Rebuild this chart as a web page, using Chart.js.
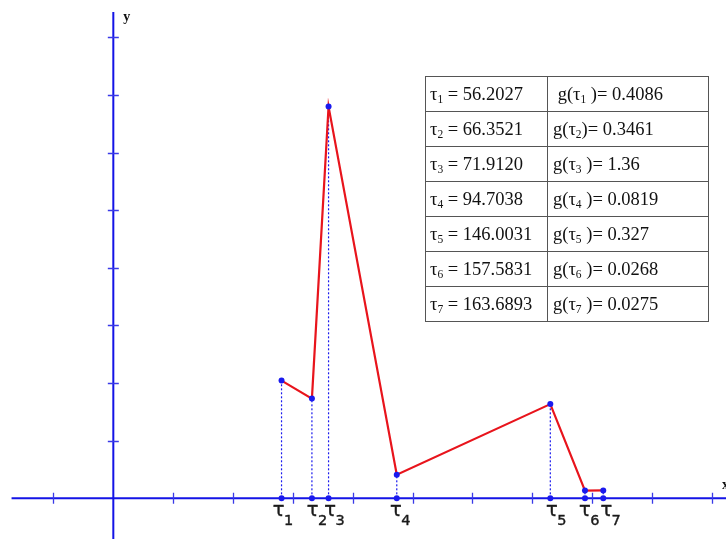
<!DOCTYPE html>
<html><head><meta charset="utf-8">
<script src="https://cdn.jsdelivr.net/npm/chart.js@4.4.1/dist/chart.umd.min.js"></script>
<style>
html,body{margin:0;padding:0;background:#fff;}
#wrap{position:relative;width:726px;height:539px;overflow:hidden;background:#fff;}
#c{position:absolute;left:0;top:0;}
#tbl{position:absolute;left:425px;top:76px;border-collapse:collapse;font-family:"Liberation Serif","Times New Roman",serif;font-size:18.5px;color:#111;}
#tbl td{border:1px solid #555;height:35px;padding:0 0 0 4px;white-space:nowrap;box-sizing:border-box;line-height:18px;}
#tbl td.c1{width:122px;}
#tbl td.c2{width:161px;padding-left:5px;}
#tbl sub{font-size:11.5px;vertical-align:-3px;line-height:0;}
</style>
</head><body>
<div id="wrap">
<canvas id="c" width="726" height="539"></canvas>
<table id="tbl"></table>
</div>
<script>
// ---- data ----
const tauNames = ['1','2','3','4','5','6','7'];
const tauValues = [56.2027, 66.3521, 71.9120, 94.7038, 146.0031, 157.5831, 163.6893];
const gValues = [0.4086, 0.3461, 1.36, 0.0819, 0.327, 0.0268, 0.0275];
const tauTexts = ['56.2027','66.3521','71.9120','94.7038','146.0031','157.5831','163.6893'];
const gTexts = ['0.4086','0.3461','1.36','0.0819','0.327','0.0268','0.0275'];
const xTicks = [-20, 20, 40, 60, 80, 100, 120, 140, 160, 180, 200];
const yTicks = [0.2, 0.4, 0.6, 0.8, 1.0, 1.2, 1.4, 1.6];

// ---- table ----
const tbl = document.getElementById('tbl');
tauNames.forEach((n, i) => {
  const tr = document.createElement('tr');
  const sp = (i === 1) ? '' : ' ';
  const lead = (i === 0) ? '&nbsp;' : '';
  tr.innerHTML = '<td class="c1">τ<sub>' + n + '</sub> = ' + tauTexts[i] + '</td>' +
    '<td class="c2">' + lead + 'g(τ<sub>' + n + '</sub>' + sp + ')= ' + gTexts[i] + '</td>';
  tbl.appendChild(tr);
});

// ---- styles ----
const AXIS = '#1414e6';
const RED = '#e8141c';
const DOT = '#1a1aee';
const X_MIN = -37.86, X_MAX = 204.7, Y_MIN = -0.1413, Y_MAX = 1.730;
const X_AXIS_START = -34, Y_AXIS_TOP = 1.688;
const labelOffsets = [-3, 0.7, 1.5, -0.8, 1.6, 0, 3];

const axesPlugin = {
  id: 'axes',
  beforeDatasetsDraw(chart) {
    const ctx = chart.ctx, xs = chart.scales.x, ys = chart.scales.y;
    const x0 = xs.getPixelForValue(0), y0 = ys.getPixelForValue(0);
    ctx.save();
    ctx.strokeStyle = AXIS;
    ctx.lineWidth = 2;
    ctx.beginPath();
    ctx.moveTo(xs.getPixelForValue(X_AXIS_START), y0);
    ctx.lineTo(chart.width, y0);
    ctx.moveTo(x0, ys.getPixelForValue(Y_AXIS_TOP));
    ctx.lineTo(x0, chart.height);
    ctx.stroke();
    ctx.lineWidth = 1.3;
    ctx.strokeStyle = '#3a3ae8';
    ctx.beginPath();
    xTicks.forEach(v => {
      const px = Math.round(xs.getPixelForValue(v)) + 0.5;
      ctx.moveTo(px, y0 - 5.5); ctx.lineTo(px, y0 + 5.5);
    });
    yTicks.forEach(v => {
      const py = Math.round(ys.getPixelForValue(v)) + 0.5;
      ctx.moveTo(x0 - 5.5, py); ctx.lineTo(x0 + 5.5, py);
    });
    ctx.stroke();
    ctx.restore();
  },
  afterDraw(chart) {
    const ctx = chart.ctx, xs = chart.scales.x, ys = chart.scales.y;
    ctx.save();
    ctx.fillStyle = '#111';
    ctx.font = 'bold 14px "Liberation Serif", serif';
    ctx.textBaseline = 'alphabetic';
    ctx.fillText('y', xs.getPixelForValue(0) + 10, 21);
    ctx.fillText('x', 722, ys.getPixelForValue(0) - 9);
    ctx.fillStyle = '#1a1a1a';
    ctx.strokeStyle = '#1a1a1a';
    ctx.lineWidth = 0.4;
    tauValues.forEach((t, i) => {
      const cx = xs.getPixelForValue(t) + labelOffsets[i];
      ctx.font = '19.5px "DejaVu Sans", sans-serif';
      const w = ctx.measureText('τ').width;
      ctx.textAlign = 'left';
      ctx.fillText('τ', cx - w / 2, 515.5);
      ctx.strokeText('τ', cx - w / 2, 515.5);
      ctx.font = '14.5px "DejaVu Sans", sans-serif';
      ctx.fillText(tauNames[i], cx + w / 2 - 0.5, 525);
      ctx.strokeText(tauNames[i], cx + w / 2 - 0.5, 525);
    });
    ctx.restore();
  }
};

const pts = tauValues.map((t, i) => ({x: t, y: gValues[i]}));
const basePts = tauValues.map(t => ({x: t, y: 0}));
const dotted = tauValues.map((t, i) => ({
  data: [{x: t, y: 0}, {x: t, y: gValues[i]}],
  showLine: true, borderColor: DOT, borderWidth: 1.2, borderDash: [2, 2],
  pointRadius: 0, order: 3
}));

new Chart(document.getElementById('c'), {
  type: 'scatter',
  data: {
    datasets: [
      {data: pts, pointRadius: 3, pointBackgroundColor: DOT, pointBorderWidth: 0, showLine: false, order: 0},
      {data: basePts, pointRadius: 3, pointBackgroundColor: DOT, pointBorderWidth: 0, showLine: false, order: 0},
      {data: pts, showLine: true, borderColor: RED, borderWidth: 2.2, pointRadius: 0, tension: 0, order: 1},
      ...dotted
    ]
  },
  options: {
    responsive: false,
    animation: false,
    events: [],
    layout: {padding: 0, autoPadding: false},
    plugins: {legend: {display: false}, tooltip: {enabled: false}},
    scales: {
      x: {type: 'linear', min: X_MIN, max: X_MAX, display: false},
      y: {type: 'linear', min: Y_MIN, max: Y_MAX, display: false}
    }
  },
  plugins: [axesPlugin]
});
</script>
</body></html>
